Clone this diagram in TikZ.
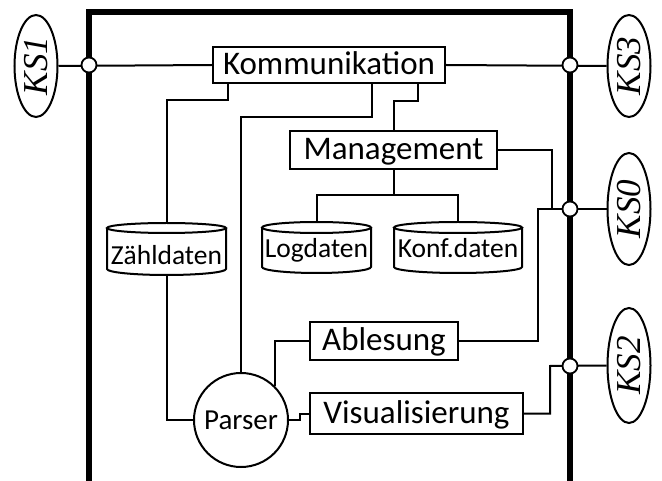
\documentclass[tikz,border=0pt]{standalone}
\usepackage{fontspec}
\usepackage{graphicx}
\setmainfont{Carlito}
\newfontfamily\ksfont{Liberation Serif}
\usetikzlibrary{shapes.geometric}
\begin{document}
\begin{tikzpicture}[x=1pt,y=-1pt,
  ln/.style={line width=2pt},
  box/.style={draw,line width=2.2pt,inner sep=0pt,fill=white,
    font=\fontsize{33}{38}\selectfont,text height=22pt,text depth=2pt},
  dbtext/.style={inner sep=0pt,font=\fontsize{27.5}{31}\selectfont,text height=22pt,text depth=1pt},
  ks/.style={draw,ellipse,line width=2pt,inner sep=0pt,fill=white,minimum width=43pt,
    font=\ksfont\itshape\fontsize{35}{40}\selectfont},
  junc/.style={draw,circle,line width=1.8pt,fill=white,minimum size=15pt,inner sep=0pt},
]
\useasboundingbox (0,0) rectangle (662,481);
% frame
\draw[line width=6pt] (89,490) -- (89,12) -- (570,12) -- (570,490);

% boxes
\node[box,minimum width=232pt,minimum height=36pt] (komm) at (329,65) {Kommunikation};
\node[box,minimum width=207pt,minimum height=38pt] (mgmt) at (393.5,150) {Management};
\node[box,minimum width=148pt,minimum height=38pt] (ables) at (384,341) {Ablesung};
\node[box,minimum width=213pt,minimum height=41pt] (visu) at (416.5,413.5) {Visualisierung};
\node[draw,circle,line width=2pt,minimum size=94pt,inner sep=0pt,
  font=\fontsize{29}{32}\selectfont] (parser) at (241,420) {Parser};

% databases (text nodes spanning the cylinder)
\node[dbtext,minimum width=119pt,minimum height=52pt,text height=33pt] (zaehl) at (166.5,249) {Zähldaten};
\node[dbtext,minimum width=109pt,minimum height=51pt] (logd) at (316.5,247.5) {Logdaten};
\node[dbtext,minimum width=128pt,minimum height=51pt] (konf) at (458,247.5) {Konf.daten};
% cylinder outlines
\draw[ln] (166.5,228) ellipse [x radius=59.5, y radius=5];
\draw[ln] (107,228) -- (107,269) arc[start angle=180,end angle=0,x radius=59.5,y radius=6] -- (226,228);
\draw[ln] (316.5,227.5) ellipse [x radius=54.5, y radius=5.5];
\draw[ln] (262,227.5) -- (262,267) arc[start angle=180,end angle=0,x radius=54.5,y radius=6] -- (371,227.5);
\draw[ln] (458,227.5) ellipse [x radius=64, y radius=5.5];
\draw[ln] (394,227.5) -- (394,267) arc[start angle=180,end angle=0,x radius=64,y radius=6] -- (522,227.5);

% KS ellipses
\node[ks,minimum height=102pt] (ks1) at (36,66) {\rotatebox{90}{KS1}};
\node[ks,minimum height=102pt] (ks3) at (629,66) {\rotatebox{90}{KS3}};
\node[ks,minimum height=112pt] (ks0) at (629,209) {\rotatebox{90}{KS0}};
\node[ks,minimum height=115pt] (ks2) at (629,365.5) {\rotatebox{90}{KS2}};

% junction positions
\coordinate (c1) at (89,65);
\coordinate (c3) at (570,65);
\coordinate (c0) at (570,209);
\coordinate (c2) at (570,366);
\coordinate (mj) at (393.5,195);

% connectors
\draw[ln] (ks1.east) -- (komm.west);
\draw[ln] (komm.east) -- (ks3.west);
\draw[ln] (komm.south west) ++(16,0) -- ++(0,16) -| (zaehl.north);
\draw[ln] (komm.south west) ++(160,0) -- ++(0,33) -| (parser.north);
\draw[ln] (komm.south west) ++(206,0) -- ++(0,17) -| (mgmt.north);
\draw[ln] (mgmt.south) -- (mj);
\draw[ln] (logd.north) |- (mj);
\draw[ln] (konf.north) |- (mj);
\draw[ln] (mgmt.east) -| ([xshift=-18pt]c0);
\draw[ln] (ables.east) -| ([xshift=-32pt]c0) -- (ks0.west);
\draw[ln] (parser.45) |- (ables.west);
\draw[ln] (parser.east) -- ++(11,0) |- (visu.west);
\draw[ln] (visu.east) -| ([xshift=-20pt]c2) -- (ks2.west);
\draw[ln] (zaehl.south) |- (parser.west);

% junction circles
\node[junc] (j1) at (c1) {};
\node[junc] (j3) at (c3) {};
\node[junc] (j0) at (c0) {};
\node[junc] (j2) at (c2) {};
\end{tikzpicture}
\end{document}
